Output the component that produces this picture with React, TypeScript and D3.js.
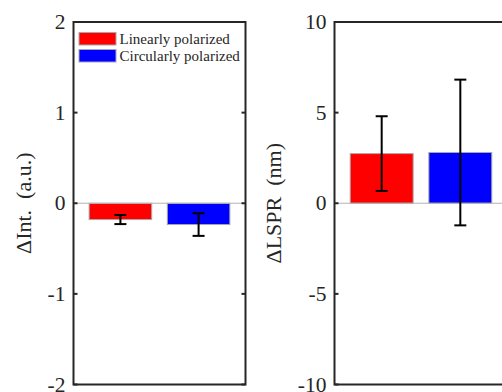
import React from "react";
import * as d3 from "d3";

// bar order: linearly, circularly
const series = ["Linearly polarized", "Circularly polarized"];
const barColors = ["#ff0000", "#0000ff"];

const intValues = [-0.18, -0.235];
const intErrors = [0.05, 0.125];
const intTicks = [-2, -1, 0, 1, 2];

const lsprValues = [2.74, 2.8];
const lsprErrors = [2.06, 4.02];
const lsprTicks = [-10, -5, 0, 5, 10];

const FONT = "'Liberation Serif', 'Times New Roman', serif";

export default function App() {
    const ref = React.useRef<SVGSVGElement>(null);

    React.useEffect(() => {
        const svg = d3.select(ref.current);
        svg.selectAll("*").remove();

        drawPanel(svg, {
            left: 73.5, right: 245.5, top: 22, bottom: 384.5,
            domain: [-2, 2], ticks: intTicks,
            values: intValues, errors: intErrors,
            label: "\u0394Int.  (a.u.)", labelX: 31,
            legend: true,
        });
        drawPanel(svg, {
            left: 334.5, right: 507.5, top: 22, bottom: 384.5,
            domain: [-10, 10], ticks: lsprTicks,
            values: lsprValues, errors: lsprErrors,
            label: "\u0394LSPR  (nm)", labelX: 281,
            legend: false,
        });
    }, []);

    function drawPanel(svg: any, p: any) {
        const x = d3.scaleLinear().domain([0.4, 2.6]).range([p.left, p.right]);
        const y = d3.scaleLinear().domain(p.domain).range([p.bottom, p.top]);
        const g = svg.append("g");
        const bw = 0.8;

        // bars
        g.selectAll("rect.bar")
            .data(p.values)
            .enter()
            .append("rect")
            .attr("x", (d: number, i: number) => x(i + 1 - bw / 2))
            .attr("width", x(bw) - x(0))
            .attr("y", (d: number) => y(Math.max(0, d)))
            .attr("height", (d: number) => Math.abs(y(d) - y(0)))
            .attr("fill", (d: number, i: number) => barColors[i])
            .attr("stroke", "#a8a8a8")
            .attr("stroke-width", 1);

        // baseline
        g.append("line")
            .attr("x1", p.left).attr("x2", p.right)
            .attr("y1", y(0)).attr("y2", y(0))
            .attr("stroke", "#b4b4b4")
            .attr("stroke-width", 1.2);

        // error bars
        p.values.forEach((v: number, i: number) => {
            const cx = x(i + 1);
            const e = p.errors[i];
            const eg = g.append("g").attr("stroke", "#000").attr("stroke-width", 2);
            eg.append("line").attr("x1", cx).attr("x2", cx).attr("y1", y(v + e)).attr("y2", y(v - e));
            eg.append("line").attr("x1", cx - 6).attr("x2", cx + 6).attr("y1", y(v + e)).attr("y2", y(v + e));
            eg.append("line").attr("x1", cx - 6).attr("x2", cx + 6).attr("y1", y(v - e)).attr("y2", y(v - e));
        });

        // box
        g.append("rect")
            .attr("x", p.left).attr("y", p.top)
            .attr("width", p.right - p.left).attr("height", p.bottom - p.top)
            .attr("fill", "none")
            .attr("stroke", "#262626")
            .attr("stroke-width", 2);

        // ticks inside on both sides
        p.ticks.forEach((t: number) => {
            g.append("line")
                .attr("x1", p.left).attr("x2", p.left + 4)
                .attr("y1", y(t)).attr("y2", y(t))
                .attr("stroke", "#262626").attr("stroke-width", 2);
            g.append("line")
                .attr("x1", p.right).attr("x2", p.right - 4)
                .attr("y1", y(t)).attr("y2", y(t))
                .attr("stroke", "#262626").attr("stroke-width", 2);
            g.append("text")
                .attr("x", p.left - 8)
                .attr("y", y(t))
                .attr("dy", "0.33em")
                .attr("text-anchor", "end")
                .attr("font-family", FONT)
                .attr("font-size", 21.5)
                .attr("fill", "#262626")
                .text(t);
        });

        // y label
        g.append("text")
            .attr("transform", `translate(${p.labelX},${(p.top + p.bottom) / 2}) rotate(-90)`)
            .attr("text-anchor", "middle")
            .attr("font-family", FONT)
            .attr("font-size", 22)
            .attr("fill", "#262626")
            .style("white-space", "pre")
            .text(p.label);

        if (p.legend) {
            series.forEach((s, i) => {
                g.append("rect")
                    .attr("x", 79).attr("y", 32.5 + i * 17)
                    .attr("width", 37).attr("height", 12.5)
                    .attr("fill", barColors[i])
                    .attr("stroke", "#a8a8a8")
                    .attr("stroke-width", 1);
                g.append("text")
                    .attr("x", 119.5).attr("y", 44 + i * 17)
                    .attr("font-family", FONT)
                    .attr("font-size", 15)
                    .attr("fill", "#262626")
                    .text(s);
            });
        }
    }

    return (
        <svg
            ref={ref}
            width={502}
            height={392}
            style={{ position: "absolute", left: 0, top: 0, background: "#fff" }}
        />
    );
}
